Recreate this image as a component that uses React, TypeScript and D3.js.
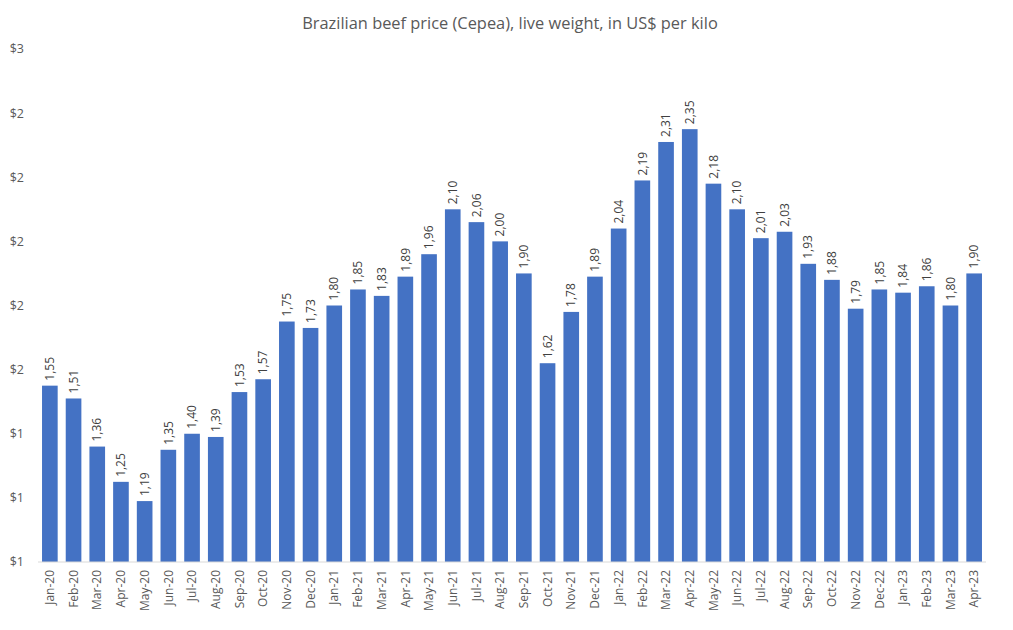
import React from "react";
import * as d3 from "d3";

const months: string[] = [
  "Jan-20","Feb-20","Mar-20","Apr-20","May-20","Jun-20","Jul-20","Aug-20","Sep-20","Oct-20","Nov-20","Dec-20",
  "Jan-21","Feb-21","Mar-21","Apr-21","May-21","Jun-21","Jul-21","Aug-21","Sep-21","Oct-21","Nov-21","Dec-21",
  "Jan-22","Feb-22","Mar-22","Apr-22","May-22","Jun-22","Jul-22","Aug-22","Sep-22","Oct-22","Nov-22","Dec-22",
  "Jan-23","Feb-23","Mar-23","Apr-23",
];
const prices: number[] = [
  1.55,1.51,1.36,1.25,1.19,1.35,1.40,1.39,1.53,1.57,1.75,1.73,
  1.80,1.85,1.83,1.89,1.96,2.10,2.06,2.00,1.90,1.62,1.78,1.89,
  2.04,2.19,2.31,2.35,2.18,2.10,2.01,2.03,1.93,1.88,1.79,1.85,
  1.84,1.86,1.80,1.90,
];
const yTicks: number[] = [1.0,1.2,1.4,1.6,1.8,2.0,2.2,2.4,2.6];
const title = "Brazilian beef price (Cepea), live weight, in US$ per kilo";

const W = 1013, H = 630;
const left = 38, right = 986, top = 49, bottom = 562;
const font = "'Open Sans', 'Noto Sans', sans-serif";

export default function App() {
  const x = d3.scaleBand<string>().domain(months).range([left, right]).paddingInner(0.34).paddingOuter(0.17);
  const y = d3.scaleLinear().domain([1.0, 2.6]).range([bottom, top]);
  const fmt = (v: number) => v.toFixed(2).replace(".", ",");
  return (
    <svg width={W} height={H} style={{ position: "absolute", left: 0, top: 0, background: "#fff" }}>
      <text x={510} y={29} textAnchor="middle" fontFamily={font} fontSize={16.4} fill="#595959">{title}</text>
      {yTicks.map((t) => (
        <text key={t} x={24} y={y(t)} dy="0.35em" textAnchor="end" fontFamily={font} fontSize={12.5} fill="#595959">
          {"$" + d3.format(".0f")(t)}
        </text>
      ))}
      {months.map((m, i) => {
        const bx = x(m)!;
        const cx = bx + x.bandwidth() / 2;
        const yt = y(prices[i]);
        return (
          <g key={m}>
            <rect x={bx} y={yt} width={x.bandwidth()} height={bottom - yt} fill="#4472C4" />
            <text transform={`translate(${cx},${yt - 5}) rotate(-90)`} dy="0.35em" textAnchor="start" fontFamily={font} fontSize={12} fill="#404040">
              {fmt(prices[i])}
            </text>
            <text transform={`translate(${cx},${bottom + 8}) rotate(-90)`} dy="0.35em" textAnchor="end" fontFamily={font} fontSize={12} fill="#595959">
              {m}
            </text>
          </g>
        );
      })}
      <line x1={left} x2={right} y1={bottom} y2={bottom} stroke="#D9D9D9" strokeWidth={1} />
    </svg>
  );
}
